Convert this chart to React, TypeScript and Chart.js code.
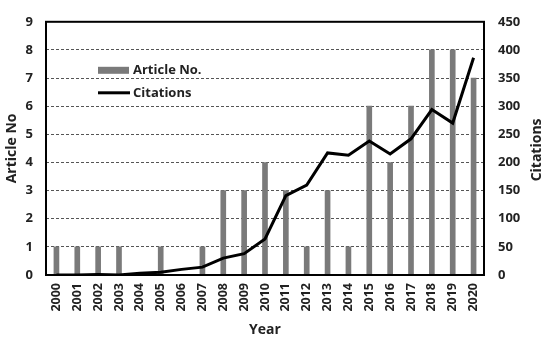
import React, { useEffect, useRef } from "react";
import { Chart, registerables } from "chart.js";

Chart.register(...registerables);

const years = ["2000","2001","2002","2003","2004","2005","2006","2007","2008","2009","2010","2011","2012","2013","2014","2015","2016","2017","2018","2019","2020"];
const articles = [1,1,1,1,0,1,0,1,3,3,4,3,1,3,1,6,4,6,8,8,7];
const citations = [0,0,1,0,3,5,10,14,30,38,64,141,160,217,213,238,215,242,294,270,386];
const leftTicks = [0,1,2,3,4,5,6,7,8,9];
const rightTicks = [0,50,100,150,200,250,300,350,400,450];

const FONT = "'Open Sans', 'Liberation Sans', sans-serif";
const TEXT = "#222";
const BAR = "#7a7a7a";

const framePlugin = {
  id: "frame",
  afterDraw(chart: any) {
    const { ctx, chartArea } = chart;
    const { left, top, right, bottom } = chartArea;
    ctx.save();
    ctx.strokeStyle = "#000";
    ctx.lineWidth = 2;
    ctx.strokeRect(left, top, right - left, bottom - top);
    // legend
    const lx = left + 52;
    const ly = top + 45;
    ctx.fillStyle = BAR;
    ctx.fillRect(lx, ly, 31, 7);
    ctx.strokeStyle = "#000";
    ctx.lineWidth = 3;
    ctx.beginPath();
    ctx.moveTo(lx, ly + 26);
    ctx.lineTo(lx + 32, ly + 26);
    ctx.stroke();
    ctx.fillStyle = TEXT;
    ctx.font = `bold 13px ${FONT}`;
    ctx.textBaseline = "middle";
    ctx.textAlign = "left";
    ctx.fillText("Article No.", lx + 35, ly + 3.5);
    ctx.fillText("Citations", lx + 35, ly + 26);
    // right axis title, reading bottom-to-top
    ctx.font = `bold 14px ${FONT}`;
    ctx.textAlign = "center";
    ctx.translate(chart.width - 13, (top + bottom) / 2 + 1.5);
    ctx.rotate(-Math.PI / 2);
    ctx.fillText("Citations", 0, 0);
    ctx.restore();
  },
};

export default function App() {
  const ref = useRef<HTMLCanvasElement | null>(null);
  useEffect(() => {
    if (!ref.current) return;
    const chart = new Chart(ref.current, {
      type: "bar",
      data: {
        labels: years,
        datasets: [
          {
            type: "line",
            label: "Citations",
            data: citations,
            yAxisID: "y2",
            borderColor: "#000",
            borderWidth: 3,
            pointRadius: 0,
            tension: 0,
            order: 0,
          } as any,
          {
            type: "bar",
            label: "Article No.",
            data: articles,
            yAxisID: "y",
            backgroundColor: BAR,
            barThickness: 5,
            order: 1,
          },
        ],
      },
      options: {
        responsive: false,
        animation: false,
        layout: { padding: { top: 16, left: 0, right: 0, bottom: 0 } },
        plugins: { legend: { display: false }, tooltip: { enabled: false } },
        scales: {
          x: {
            offset: true,
            grid: { display: false, drawTicks: false },
            border: { display: false },
            ticks: {
              color: TEXT,
              font: { family: FONT, size: 12.5, weight: "bold" },
              maxRotation: 90,
              minRotation: 90,
              padding: 8,
              autoSkip: false,
            },
            title: {
              display: true,
              text: "Year",
              color: TEXT,
              font: { family: FONT, size: 14, weight: "bold" },
              padding: { top: 0, bottom: 8 },
            },
            afterFit(s: any) { s.height = 71; },
          },
          y: {
            position: "left",
            min: 0,
            max: 9,
            afterBuildTicks(s: any) { s.ticks = leftTicks.map((v) => ({ value: v })); },
            grid: { color: "#555", lineWidth: 1, drawTicks: false },
            border: { display: false, dash: [3, 2] },
            ticks: {
              color: TEXT,
              font: { family: FONT, size: 13, weight: "bold" },
              padding: 13,
            },
            title: {
              display: true,
              text: "Article No",
              color: TEXT,
              font: { family: FONT, size: 14, weight: "bold" },
              padding: { top: 4, bottom: 0 },
            },
            afterFit(s: any) { s.width = 46; },
          },
          y2: {
            position: "right",
            min: 0,
            max: 450,
            afterBuildTicks(s: any) { s.ticks = rightTicks.map((v) => ({ value: v })); },
            grid: { display: false, drawTicks: false },
            border: { display: false },
            ticks: {
              color: TEXT,
              font: { family: FONT, size: 13, weight: "bold" },
              padding: 14,
            },
            afterFit(s: any) { s.width = 66; },
          },
        },
      } as any,
      plugins: [framePlugin],
    });
    return () => chart.destroy();
  }, []);
  return (
    <div style={{ position: "absolute", left: 0, top: 0, width: 550, height: 346, background: "#fff" }}>
      <canvas ref={ref} width={550} height={346} />
    </div>
  );
}
